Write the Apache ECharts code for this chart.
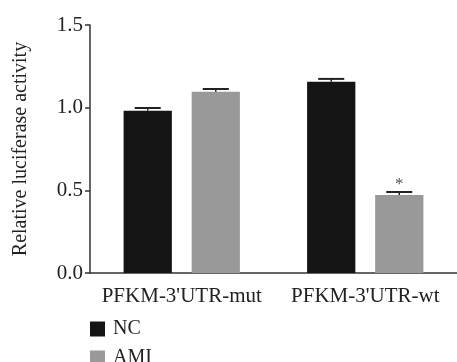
<!DOCTYPE html>
<html>
<head>
<meta charset="utf-8">
<script src="https://cdn.jsdelivr.net/npm/echarts@6/dist/echarts.min.js"></script>
<style>
html, body { margin: 0; padding: 0; background: #fff; }
#chart { width: 457px; height: 362px; }
</style>
</head>
<body>
<div id="chart"></div>
<script>
var categories = ["PFKM-3'UTR-mut", "PFKM-3'UTR-wt"];
var ncValues = [0.982, 1.157];
var amiValues = [1.097, 0.472];
var ncErrors = [0.016, 0.017];
var amiErrors = [0.016, 0.018];
var amiMarks = ['', '*'];

var font = 'Liberation Serif';
var barFrac = 0.263;
var gapFrac = 0.41;

function errorSeries(values, errors, marks, side) {
    var data = values.map(function (v, i) { return [i, v, errors[i], marks ? marks[i] : '']; });
    return {
        type: 'custom',
        z: 5,
        silent: true,
        data: data,
        renderItem: function (params, api) {
            var i = api.value(0);
            var v = api.value(1);
            var e = api.value(2);
            var band = api.size([1, 0])[0];
            var off = side * band * barFrac * (1 + gapFrac) / 2;
            var base = api.coord([i, v]);
            var top = api.coord([i, v + e]);
            var x = base[0] + off;
            var half = band * barFrac * 0.27;
            var children = [
                { type: 'line', shape: { x1: x, y1: base[1], x2: x, y2: top[1] }, style: { stroke: '#222', lineWidth: 1.5 } },
                { type: 'line', shape: { x1: x - half, y1: top[1], x2: x + half, y2: top[1] }, style: { stroke: '#222', lineWidth: 2 } }
            ];
            var m = data[params.dataIndex][3];
            if (m) {
                children.push({
                    type: 'text',
                    style: { text: m, x: x, y: top[1] + 1, align: 'center', verticalAlign: 'bottom', fill: '#555', font: '17px ' + font }
                });
            }
            return { type: 'group', children: children };
        }
    };
}

function legendAt(name, top) {
    return {
        orient: 'vertical',
        left: 90,
        top: top,
        itemWidth: 15,
        itemHeight: 15,
        itemGap: 0,
        icon: 'rect',
        padding: 0,
        data: [name],
        textStyle: { fontFamily: font, fontSize: 20, color: '#222', padding: [0, 0, 0, 3] }
    };
}

var chart = echarts.init(document.getElementById('chart'));
var option = {
    animation: false,
    textStyle: { fontFamily: font },
    grid: { left: 90, right: -5, top: 25, bottom: 89, containLabel: false },
    legend: [legendAt('NC', 319), legendAt('AMI', 348)],
    xAxis: {
        type: 'category',
        data: categories,
        axisLine: { lineStyle: { color: '#333', width: 1.5 } },
        axisTick: { alignWithLabel: true, length: 5, lineStyle: { color: '#333', width: 1.5 } },
        axisLabel: { interval: 0, hideOverlap: false, fontFamily: font, fontSize: 21, color: '#222', margin: 13 }
    },
    yAxis: {
        type: 'value',
        min: 0,
        max: 1.5,
        interval: 0.5,
        name: 'Relative luciferase activity',
        nameLocation: 'middle',
        nameGap: 59,
        nameTextStyle: { fontFamily: font, fontSize: 20, color: '#222' },
        splitLine: { show: false },
        axisLine: { show: true, lineStyle: { color: '#333', width: 1.5 } },
        axisTick: { show: true, length: 5, lineStyle: { color: '#333', width: 1.5 } },
        axisLabel: {
            fontFamily: font, fontSize: 21, color: '#222', margin: 7,
            formatter: function (v) { return v.toFixed(1); }
        }
    },
    series: [
        { name: 'NC', type: 'bar', data: ncValues, barWidth: (barFrac * 100) + '%', barGap: (gapFrac * 100) + '%', itemStyle: { color: '#141414' } },
        { name: 'AMI', type: 'bar', data: amiValues, barWidth: (barFrac * 100) + '%', itemStyle: { color: '#999999' } },
        errorSeries(ncValues, ncErrors, null, -1),
        errorSeries(amiValues, amiErrors, amiMarks, 1)
    ]
};
chart.setOption(option);
</script>
</body>
</html>
